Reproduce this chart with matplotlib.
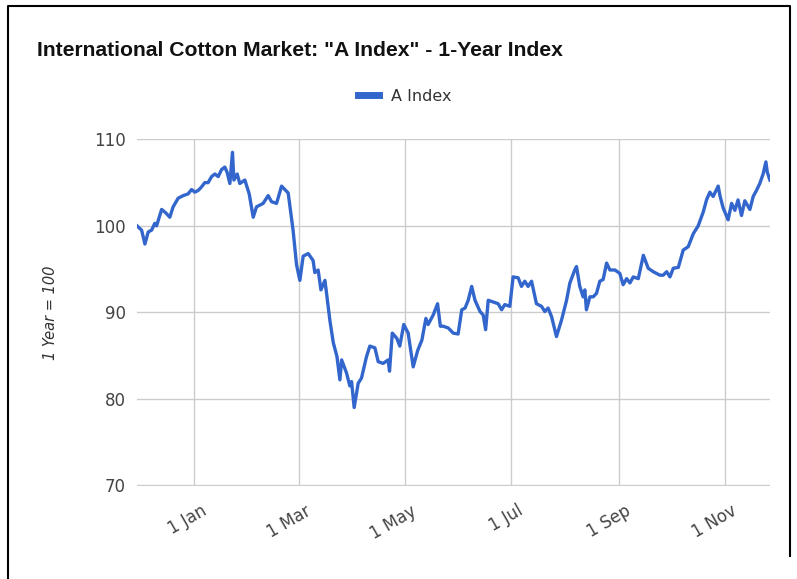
import numpy as np
import pandas as pd
import matplotlib
matplotlib.use('Agg')
import matplotlib.pyplot as plt
import matplotlib.dates as mdates
import matplotlib.transforms as mtransforms
from matplotlib.lines import Line2D

# days since 1 Jan 2020 and index values (1 year ago = 100)
days = [-32.9, -30.3, -28.4, -26.5, -24.6, -22.7, -21.7, -18.8, -16.4, -14.1,
        -12.2, -9.3, -6.4, -3.6, -1.6, 0.3, 2.2, 4.1, 6.0, 7.9,
        9.9, 11.8, 13.7, 15.6, 17.5, 18.8, 20.4, 21.9, 22.7, 24.6,
        26.1, 29.0, 31.5, 33.8, 35.7, 39.5, 42.4, 44.3, 47.2, 50.1,
        53.9, 56.7, 58.7, 60.6, 62.5, 65.4, 68.2, 69.2, 71.1, 72.7,
        75.0, 77.9, 79.8, 81.9, 83.6, 84.6, 87.4, 89.3, 90.3, 91.8,
        94.1, 96.0, 98.9, 100.8, 103.7, 105.6, 108.4, 111.3, 112.1, 113.7,
        116.3, 118.0, 120.3, 122.8, 125.7, 128.3, 130.7, 133.0, 134.3, 137.2,
        139.7, 141.3, 142.9, 145.8, 148.7, 151.5, 153.6, 155.5, 157.3, 159.3,
        161.2, 164.1, 165.9, 167.3, 168.8, 171.7, 174.5, 176.5, 178.3, 181.2,
        183.1, 186.0, 187.9, 189.8, 191.7, 193.7, 196.5, 199.4, 201.3, 203.2,
        205.2, 208.0, 210.9, 213.8, 215.7, 218.5, 219.5, 221.4, 223.3, 224.3,
        225.2, 227.2, 229.1, 231.0, 232.9, 234.8, 236.8, 238.7, 241.6, 244.4,
        246.3, 248.3, 250.2, 252.1, 255.0, 257.9, 260.7, 263.6, 267.4, 269.3,
        271.3, 273.2, 275.1, 278.0, 280.8, 283.7, 286.6, 289.4, 292.3, 294.2,
        296.1, 298.0, 300.9, 301.9, 303.7, 306.6, 308.6, 310.5, 312.3, 314.3,
        316.2, 319.1, 321.0, 322.9, 324.8, 326.7, 328.3, 329.1, 330.6]
a_index = [100.0, 99.5, 97.9, 99.3, 99.5, 100.3, 100.0, 101.9, 101.5, 101.0,
           102.2, 103.2, 103.5, 103.7, 104.2, 103.9, 104.1, 104.5, 105.0, 105.0,
           105.7, 106.0, 105.7, 106.5, 106.8, 106.2, 104.9, 108.5, 105.3, 106.0,
           104.9, 105.3, 103.7, 101.0, 102.2, 102.6, 103.5, 102.8, 102.6, 104.6,
           103.8, 99.5, 95.5, 93.7, 96.5, 96.8, 96.0, 94.6, 94.9, 92.6,
           93.7, 89.0, 86.5, 84.9, 82.2, 84.5, 83.0, 81.5, 82.0, 79.0,
           81.8, 82.4, 84.9, 86.1, 85.9, 84.3, 84.1, 84.5, 83.2, 87.6,
           87.0, 86.1, 88.6, 87.6, 83.7, 85.6, 86.8, 89.3, 88.6, 89.7,
           91.0, 88.4, 88.4, 88.2, 87.6, 87.5, 90.3, 90.5, 91.4, 93.0,
           91.4, 90.1, 89.7, 88.0, 91.4, 91.2, 91.0, 90.3, 90.9, 90.7,
           94.1, 94.0, 93.0, 93.6, 93.0, 93.6, 91.0, 90.7, 90.1, 90.5,
           89.5, 87.2, 89.1, 91.4, 93.4, 94.9, 95.3, 93.0, 91.8, 92.6,
           90.3, 91.8, 91.8, 92.2, 93.6, 93.8, 95.7, 94.9, 94.9, 94.5,
           93.2, 93.9, 93.4, 94.1, 93.9, 96.6, 95.1, 94.7, 94.3, 94.3,
           94.7, 94.1, 95.1, 95.2, 97.2, 97.6, 99.1, 100.0, 101.6, 103.0,
           103.9, 103.4, 104.6, 103.5, 102.1, 100.7, 102.6, 101.8, 103.0, 101.2,
           102.9, 101.9, 103.4, 104.1, 104.9, 106.0, 107.4, 106.2, 105.3]
y_ticks = [70, 80, 90, 100, 110]

dates = pd.Timestamp('2020-01-01') + pd.to_timedelta(days, unit='D')

fig = plt.figure(figsize=(7.97, 5.79), dpi=100)
ax = fig.add_axes([0.172, 0.161, 0.794, 0.599])

ax.plot(dates, a_index, color='#3366CC', lw=2.4, label='A Index')

ax.set_ylim(69.95, 110.05)
ax.set_yticks(y_ticks)
ax.set_xlim(dates[0], dates[-1])
ax.xaxis.set_major_locator(mdates.MonthLocator(bymonth=[1, 3, 5, 7, 9, 11]))
ax.xaxis.set_major_formatter(mdates.DateFormatter('%-d %b'))

ax.grid(True, color='#cccccc', lw=1)
for s in ax.spines.values():
    s.set_visible(False)
ax.tick_params(length=0, labelsize=12, colors='#444444', pad=8)
shift = mtransforms.ScaledTranslation(6 / 100, -5 / 100, fig.dpi_scale_trans)
for lbl in ax.get_xticklabels():
    lbl.set_rotation(30)
    lbl.set_ha('right')
    lbl.set_rotation_mode('anchor')
    lbl.set_transform(lbl.get_transform() + shift)
ax.set_ylabel('1 Year = 100', fontstyle='italic', fontsize=10.5, color='#333333', labelpad=26)

fig.text(0.046, 0.913, 'International Cotton Market: "A Index" - 1-Year Index',
         fontsize=15.2, fontweight='bold', family=['Liberation Sans Narrow', 'Liberation Sans'],
         color='#111111', va='center')

handle = Line2D([], [], color='#3366CC', lw=5)
fig.legend([handle], ['A Index'], loc='center', bbox_to_anchor=(0.508, 0.834),
           frameon=False, fontsize=11.5, handlelength=1.3, labelcolor='#333333')

# outer frame (top, left, right)
fx0, fx1, fy1, fy0 = 8 / 797, 790 / 797, 1 - 6 / 579, 1 - 556 / 579
fig.add_artist(Line2D([fx0, fx0, fx1, fx1], [0, fy1, fy1, fy0], transform=fig.transFigure,
                      color='black', lw=1.5))

fig.savefig('out.png', dpi=100)
